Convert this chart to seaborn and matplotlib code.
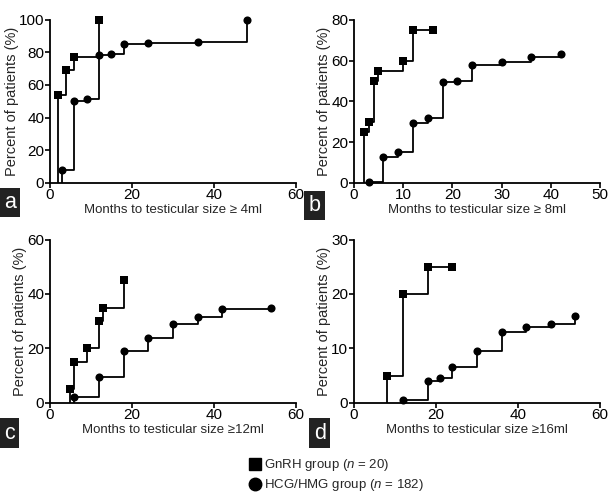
import numpy as np
import pandas as pd
import matplotlib
matplotlib.use("Agg")
import matplotlib.pyplot as plt
from matplotlib.lines import Line2D
import seaborn as sns

# Panel a: testicular size >= 4ml
a_gnrh_x = [2, 4, 6, 12]
a_gnrh_y = [54, 69, 77, 100]
a_hcg_x = [3, 6, 9, 12, 15, 18, 24, 36, 48]
a_hcg_y = [8, 50, 51.5, 78.5, 79, 85, 86, 86.5, 100]

# Panel b: >= 8ml
b_gnrh_x = [2, 3, 4, 5, 10, 12, 16]
b_gnrh_y = [25, 30, 50, 55, 60, 75, 75]
b_hcg_x = [3, 6, 9, 12, 15, 18, 21, 24, 30, 36, 42]
b_hcg_y = [0.5, 12.5, 15, 29.5, 32, 49.5, 50, 58, 59.5, 61.5, 63]

# Panel c: >= 12ml
c_gnrh_x = [5, 6, 9, 12, 13, 18]
c_gnrh_y = [5, 15, 20, 30, 35, 45]
c_hcg_x = [6, 12, 18, 24, 30, 36, 42, 54]
c_hcg_y = [2, 9.5, 19, 24, 29, 31.5, 34.5, 35]

# Panel d: >= 16ml
d_gnrh_x = [8, 12, 18, 24]
d_gnrh_y = [5, 20, 25, 25]
d_hcg_x = [12, 18, 21, 24, 30, 36, 42, 48, 54]
d_hcg_y = [0.5, 4, 4.5, 6.5, 9.5, 13, 14, 14.5, 16]

panels = [
    ("a", "Months to testicular size \u2265 4ml", a_gnrh_x, a_gnrh_y, a_hcg_x, a_hcg_y, 60, 20, 100, 20),
    ("b", "Months to testicular size \u2265 8ml", b_gnrh_x, b_gnrh_y, b_hcg_x, b_hcg_y, 50, 10, 80, 20),
    ("c", "Months to testicular size \u226512ml", c_gnrh_x, c_gnrh_y, c_hcg_x, c_hcg_y, 60, 20, 60, 20),
    ("d", "Months to testicular size \u226516ml", d_gnrh_x, d_gnrh_y, d_hcg_x, d_hcg_y, 60, 20, 30, 10),
]

sns.set_style("ticks")
plt.rcParams['font.family'] = ['Liberation Sans', 'DejaVu Sans']
plt.rcParams['mathtext.fontset'] = 'custom'
plt.rcParams['mathtext.it'] = 'Liberation Sans:italic'
plt.rcParams['mathtext.rm'] = 'Liberation Sans'

fig = plt.figure(figsize=(6.08, 4.93), dpi=100)

# axes boxes in figure fractions
W, H = 0.405, 0.331
boxes = [(0.082, 0.629), (0.582, 0.629), (0.082, 0.183), (0.582, 0.183)]
label_pos = [(0.007, 0.568), (0.507, 0.562), (0.007, 0.1), (0.516, 0.1)]


def step_frame(xs, ys):
    # start the curve from 0 at the first event time
    return pd.DataFrame({"x": [xs[0]] + list(xs), "y": [0] + list(ys)})


for (tag, xlabel, gx, gy, hx, hy, xmax, xstep, ymax, ystep), (l, b), (tx, ty) in zip(panels, boxes, label_pos):
    ax = fig.add_axes([l, b, W, H])
    for xs, ys, mk in [(gx, gy, "s"), (hx, hy, "o")]:
        sns.lineplot(data=step_frame(xs, ys), x="x", y="y", ax=ax, estimator=None, sort=False,
                     drawstyle="steps-post", color="black", lw=1.3)
        sns.scatterplot(x=xs, y=ys, ax=ax, marker=mk, color="black", s=34, edgecolor="black",
                        linewidth=0, clip_on=False, zorder=3)
    ax.set_xlim(0, xmax)
    ax.set_ylim(0, ymax)
    ax.set_xticks(np.arange(0, xmax + 1, xstep))
    ax.set_yticks(np.arange(0, ymax + 1, ystep))
    ax.set_xlabel(xlabel, fontsize=9.5, labelpad=1)
    ax.set_ylabel("Percent of patients (%)", fontsize=10.5, labelpad=0)
    ax.tick_params(labelsize=11, width=1.2, length=3.5, pad=0.5, color="black", labelcolor="black")
    for s in ["left", "bottom"]:
        ax.spines[s].set_linewidth(1.3)
        ax.spines[s].set_color("black")
    sns.despine(ax=ax)
    fig.text(tx, ty, tag, fontsize=15.5, color="white", ha="left", va="bottom",
             bbox=dict(boxstyle="square,pad=0.2", facecolor="#222222", edgecolor="none"))

handles = [
    Line2D([], [], marker="s", color="black", linestyle="none", markersize=9),
    Line2D([], [], marker="o", color="black", linestyle="none", markersize=9),
]
fig.legend(handles, ["GnRH group ($\\it{n}$ = 20)", "HCG/HMG group ($\\it{n}$ = 182)"],
           loc="upper left", bbox_to_anchor=(0.398, 0.083), frameon=False, fontsize=9.5,
           handletextpad=0.1, handlelength=1.2, labelspacing=0.3, borderaxespad=0)

fig.savefig("out.png", dpi=100)
